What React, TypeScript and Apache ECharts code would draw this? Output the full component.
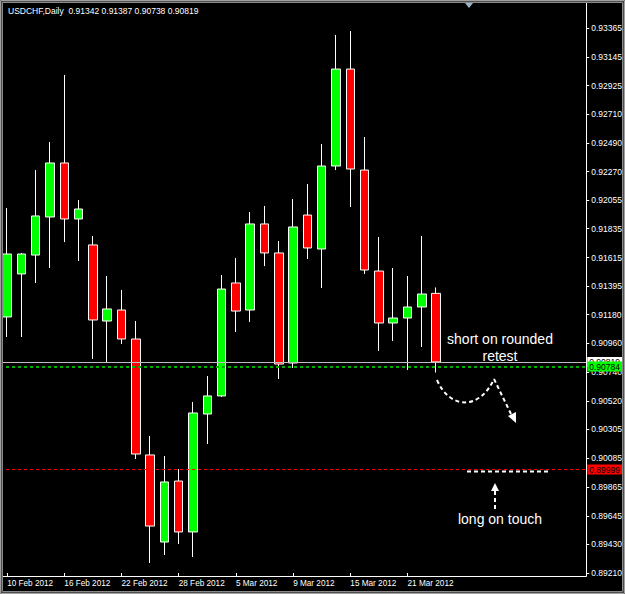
import React, { useEffect, useRef } from 'react';
import * as echarts from 'echarts';

const symbolName = 'USDCHF,Daily';

const dates = [
  '10 Feb 2012', '13 Feb 2012', '14 Feb 2012', '15 Feb 2012', '16 Feb 2012', '17 Feb 2012',
  '20 Feb 2012', '21 Feb 2012', '22 Feb 2012', '23 Feb 2012', '24 Feb 2012', '27 Feb 2012',
  '28 Feb 2012', '29 Feb 2012', '1 Mar 2012', '2 Mar 2012', '5 Mar 2012', '6 Mar 2012',
  '7 Mar 2012', '8 Mar 2012', '9 Mar 2012', '12 Mar 2012', '13 Mar 2012', '14 Mar 2012',
  '15 Mar 2012', '16 Mar 2012', '19 Mar 2012', '20 Mar 2012', '21 Mar 2012', '22 Mar 2012',
  '23 Mar 2012',
];
const emptySlots = 10;

const opens = [
  0.91162, 0.9149, 0.91634, 0.91924, 0.92336, 0.91909, 0.91711, 0.91131, 0.91215, 0.90994,
  0.9011, 0.89446, 0.89911, 0.89523, 0.90422, 0.9056, 0.91421, 0.91215, 0.91871, 0.9165,
  0.90811, 0.91939, 0.9168, 0.92313, 0.93052, 0.92282, 0.91512, 0.91116, 0.91154, 0.91238,
  0.91342,
];
const closes = [
  0.91642, 0.91642, 0.91932, 0.92336, 0.91909, 0.91985, 0.91139, 0.91223, 0.90994, 0.90117,
  0.89568, 0.89904, 0.89523, 0.9043, 0.9056, 0.91375, 0.91207, 0.91871, 0.9165, 0.90803,
  0.91848, 0.91688, 0.92313, 0.93052, 0.9229, 0.9152, 0.91116, 0.91154, 0.91238, 0.91337,
  0.90819,
];
const lows = [
  0.91009, 0.91009, 0.91421, 0.91535, 0.91733, 0.91589, 0.90842, 0.90811, 0.90956, 0.90079,
  0.89286, 0.89347, 0.89431, 0.89332, 0.90193, 0.90552, 0.91047, 0.91124, 0.9155, 0.90689,
  0.90773, 0.91604, 0.91383, 0.92282, 0.92, 0.9149, 0.90903, 0.90979, 0.90758, 0.90933,
  0.90738,
];
const highs = [
  0.91993, 0.9165, 0.92282, 0.92496, 0.93007, 0.92054, 0.91779, 0.91474, 0.91368, 0.91131,
  0.90254, 0.90102, 0.90003, 0.90514, 0.90712, 0.91482, 0.91612, 0.91962, 0.92008, 0.91741,
  0.92061, 0.92176, 0.92481, 0.93312, 0.93342, 0.92534, 0.91772, 0.91535, 0.91474, 0.91779,
  0.91387,
];

const priceTicks = [
  0.93365, 0.93145, 0.92925, 0.9271, 0.9249, 0.9227, 0.92055, 0.91835, 0.91615, 0.91395,
  0.9118, 0.9096, 0.9074, 0.9052, 0.90305, 0.90085, 0.89865, 0.89645, 0.8943, 0.8921,
];

const bidLevel = 0.90819;
const greenLevel = 0.90784;
const redLevel = 0.89999;

const axisMin = 0.891871;
const axisMax = 0.935785;

const FONT = "'Liberation Sans', Arial, sans-serif";

export default function App() {
  const ref = useRef<HTMLDivElement>(null);

  useEffect(() => {
    if (!ref.current) return;
    const chart = echarts.init(ref.current, null, { renderer: 'svg' });

    const categories = [...dates, ...Array(emptySlots).fill('')];
    const candleData = dates.map((_, i) => [opens[i], closes[i], lows[i], highs[i]]);
    const last = dates.length - 1;
    const title = `${symbolName}  ${opens[last].toFixed(5)} ${highs[last].toFixed(5)} ${lows[last].toFixed(5)} ${closes[last].toFixed(5)}`;

    const showIdx = (index: number, value: string) => value !== '' && index % 4 === 0;

    const dash = { stroke: '#ffffff', lineWidth: 2, lineDash: [4, 3], fill: null };

    const priceLabel = (bg: string) => ({
      show: true,
      position: 'end',
      distance: 1,
      formatter: (p: any) => Number(p.value).toFixed(5),
      backgroundColor: bg,
      color: '#000000',
      fontSize: 8.5,
      fontFamily: FONT,
      lineHeight: 10,
      padding: [0, 2],
    });

    const option: any = {
      animation: false,
      backgroundColor: '#000000',
      grid: { left: -2.8, right: 38, top: 0, bottom: 18, containLabel: false },
      xAxis: {
        type: 'category',
        data: categories,
        boundaryGap: true,
        axisLine: { show: true, lineStyle: { color: '#ffffff', width: 1 } },
        axisTick: {
          show: true,
          inside: true,
          length: 3,
          alignWithLabel: true,
          interval: showIdx,
          lineStyle: { color: '#ffffff' },
        },
        axisLabel: {
          show: true,
          interval: showIdx,
          align: 'left',
          margin: 3,
          color: '#ffffff',
          fontSize: 8.2,
          fontFamily: FONT,
        },
        splitLine: { show: false },
      },
      yAxis: {
        type: 'value',
        position: 'right',
        min: axisMin,
        max: axisMax,
        scale: true,
        axisLine: { show: true, lineStyle: { color: '#ffffff', width: 1 } },
        axisTick: {
          show: true,
          length: 3,
          customValues: priceTicks,
          lineStyle: { color: '#ffffff' },
        },
        axisLabel: {
          show: true,
          customValues: priceTicks,
          margin: 5,
          color: '#ffffff',
          fontSize: 8.5,
          fontFamily: FONT,
          formatter: (v: number) => v.toFixed(5),
        },
        splitLine: { show: false },
      },
      series: [
        {
          type: 'candlestick',
          data: candleData,
          barWidth: 9,
          clip: true,
          itemStyle: {
            color: '#00ff00',
            color0: '#ff0000',
            borderColor: '#ffffff',
            borderColor0: '#ffffff',
            borderWidth: 1,
          },
          markLine: {
            silent: true,
            symbol: ['none', 'none'],
            animation: false,
            precision: 5,
            data: [
              {
                yAxis: bidLevel,
                lineStyle: { color: '#c0c0c0', width: 1, type: 'solid' },
                label: priceLabel('#ffffff'),
              },
              {
                yAxis: greenLevel,
                lineStyle: { color: '#00b000', width: 2, type: [3, 3] },
                label: priceLabel('#00ff00'),
              },
              {
                yAxis: redLevel,
                lineStyle: { color: '#ff0000', width: 1, type: [3, 3] },
                label: priceLabel('#ff0000'),
              },
            ],
          },
        },
      ],
      graphic: [
        // window frame
        { type: 'rect', z: 100, silent: true, shape: { x: 0.5, y: 0.5, width: 624, height: 593 }, style: { fill: null, stroke: '#a0a0a0', lineWidth: 1 } },
        { type: 'rect', z: 100, silent: true, shape: { x: 1.5, y: 1.5, width: 622, height: 591 }, style: { fill: null, stroke: '#505050', lineWidth: 1 } },
        { type: 'rect', z: 100, silent: true, shape: { x: 2.5, y: 2.5, width: 620, height: 589 }, style: { fill: null, stroke: '#8a8a8a', lineWidth: 1 } },
        // shift marker
        { type: 'polygon', z: 101, silent: true, shape: { points: [[465, 3], [473, 3], [469, 8]] }, style: { fill: '#9fb3c8' } },
        // title
        { type: 'text', z: 101, silent: true, x: 8, y: 11, style: { text: title, fill: '#ffffff', font: `8.5px ${FONT}`, textVerticalAlign: 'middle', textAlign: 'left' } },
        // annotations
        { type: 'text', z: 50, silent: true, x: 500, y: 339, style: { text: 'short on rounded', fill: '#ffffff', font: `14px ${FONT}`, textAlign: 'center', textVerticalAlign: 'middle' } },
        { type: 'text', z: 50, silent: true, x: 500, y: 356, style: { text: 'retest', fill: '#ffffff', font: `14px ${FONT}`, textAlign: 'center', textVerticalAlign: 'middle' } },
        { type: 'text', z: 50, silent: true, x: 500, y: 519, style: { text: 'long on touch', fill: '#ffffff', font: `14px ${FONT}`, textAlign: 'center', textVerticalAlign: 'middle' } },
        { type: 'bezierCurve', z: 50, silent: true, shape: { x1: 437, y1: 380, x2: 494, y2: 379, cpx1: 450, cpy1: 410, cpx2: 480, cpy2: 410 }, style: dash },
        { type: 'line', z: 50, silent: true, shape: { x1: 494, y1: 379, x2: 511, y2: 414 }, style: dash },
        { type: 'polygon', z: 50, silent: true, shape: { points: [[516, 423], [508, 416], [516, 412]] }, style: { fill: '#ffffff' } },
        { type: 'line', z: 50, silent: true, shape: { x1: 467, y1: 471.5, x2: 551, y2: 471.5 }, style: dash },
        { type: 'line', z: 50, silent: true, shape: { x1: 495, y1: 509, x2: 495, y2: 490 }, style: dash },
        { type: 'polygon', z: 50, silent: true, shape: { points: [[495, 483], [491, 491], [499, 491]] }, style: { fill: '#ffffff' } },
      ],
    };

    chart.setOption(option);
    return () => chart.dispose();
  }, []);

  return (
    <div
      ref={ref}
      style={{ position: 'fixed', left: 0, top: 0, width: 625, height: 594, background: '#000000' }}
    />
  );
}
